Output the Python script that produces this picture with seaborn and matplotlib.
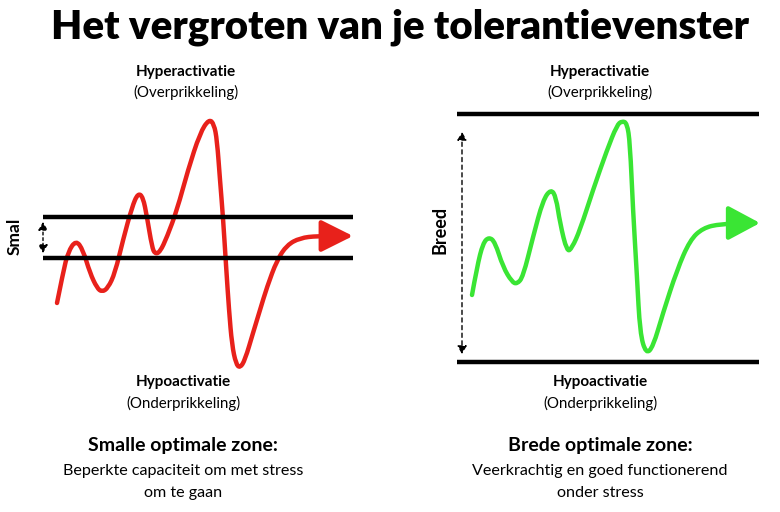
import matplotlib
matplotlib.use("Agg")
import matplotlib.pyplot as plt
from matplotlib.path import Path
from matplotlib.patches import PathPatch
import seaborn as sns

# curve points (pixel units, y grows downward)
smal_x = [57, 63, 68, 76, 83, 90, 97, 102, 108, 115, 123, 132, 138, 143, 147, 152, 155, 160, 167, 177,
          188, 200, 209, 214, 217, 220, 223, 226, 229, 232, 236, 240, 245, 253, 260, 267, 277, 287, 300,
          317, 333]
smal_y = [303, 273, 252, 240, 250, 273, 288, 292, 288, 273, 240, 207, 193, 197, 217, 247, 254, 252, 237, 210,
          170, 133, 119, 124, 140, 180, 217, 265, 310, 345, 364, 368, 360, 333, 310, 287, 260, 245, 238,
          236, 236]
smal_tip = (353, 236)

breed_x = [472, 477, 483, 489, 495, 503, 512, 517, 523, 533, 543, 551, 556, 560, 567, 572, 580, 593, 607,
           617, 622, 627, 630, 633, 637, 640, 646, 653, 663, 677, 690, 703, 720, 740]
breed_y = [295, 267, 243, 237, 242, 267, 282, 284, 277, 237, 200, 189, 197, 223, 252, 248, 230, 190, 150,
           125, 121, 123, 143, 210, 277, 333, 354, 347, 313, 270, 240, 228, 224, 223]
breed_tip = (760, 223)

# zone borders: (x start, x end, y)
smal_borders = [(43, 353, 217), (43, 353, 258)]
breed_borders = [(457, 759, 114), (457, 759, 362)]

title = "Het vergroten van je tolerantievenster"
labels_left = ["Hyperactivatie", "(Overprikkeling)", "Hypoactivatie", "(Onderprikkeling)",
               "Smalle optimale zone:", "Beperkte capaciteit om met stress", "om te gaan"]
labels_right = ["Hyperactivatie", "(Overprikkeling)", "Hypoactivatie", "(Onderprikkeling)",
                "Brede optimale zone:", "Veerkrachtig en goed functionerend", "onder stress"]

RED = "#e8211b"
GREEN = "#3ae534"


def smooth_path(xs, ys):
    # quadratic bezier chain using the read points as control points
    verts = [(xs[0], ys[0])]
    codes = [Path.MOVETO]
    n = len(xs)
    for i in range(1, n - 1):
        end = (xs[i + 1], ys[i + 1]) if i == n - 2 else ((xs[i] + xs[i + 1]) / 2, (ys[i] + ys[i + 1]) / 2)
        verts += [(xs[i], ys[i]), end]
        codes += [Path.CURVE3, Path.CURVE3]
    return Path(verts, codes)


sns.set_theme(style="white")
plt.rcParams["font.family"] = ["Lato", "DejaVu Sans"]
plt.rcParams["text.color"] = "black"

fig = plt.figure(figsize=(7.8, 5.12), dpi=100)
ax = fig.add_axes([0, 0, 1, 1])
ax.set_xlim(0, 780)
ax.set_ylim(512, 0)
ax.axis("off")

for borders in (smal_borders, breed_borders):
    for x0, x1, y in borders:
        ax.plot([x0, x1], [y, y], color="black", lw=3.2, solid_capstyle="butt")

for xs, ys, col in ((smal_x, smal_y, RED), (breed_x, breed_y, GREEN)):
    ax.add_patch(PathPatch(smooth_path(xs, ys), fill=False, edgecolor=col, lw=3.2,
                           capstyle="round", joinstyle="round"))

# arrow heads at the end of each curve
ax.annotate("", xy=smal_tip, xytext=(smal_x[-1], smal_y[-1]),
            arrowprops=dict(arrowstyle="-|>,head_length=1.4,head_width=0.7", color=RED, lw=3.2,
                            mutation_scale=14, shrinkA=0, shrinkB=0))
ax.annotate("", xy=breed_tip, xytext=(breed_x[-1], breed_y[-1]),
            arrowprops=dict(arrowstyle="-|>,head_length=1.4,head_width=0.75", color=GREEN, lw=3.2,
                            mutation_scale=14, shrinkA=0, shrinkB=0))

# dotted width arrows
ax.annotate("", xy=(43, 222), xytext=(43, 253),
            arrowprops=dict(arrowstyle="<|-|>,head_length=0.6,head_width=0.35", color="black", lw=1,
                            linestyle=(0, (2, 2)), mutation_scale=8, shrinkA=0, shrinkB=0))
ax.annotate("", xy=(462, 132), xytext=(462, 354),
            arrowprops=dict(arrowstyle="<|-|>,head_length=0.6,head_width=0.35", color="black", lw=1,
                            linestyle=(0, (3, 2.5)), mutation_scale=8, shrinkA=0, shrinkB=0))
ax.text(15, 236, "Smal", rotation=90, ha="center", va="center", fontsize=12.5, fontweight="bold")
ax.text(440, 230, "Breed", rotation=90, ha="center", va="center", fontsize=13, fontweight="bold")

ax.text(400, 27, title, ha="center", va="center", fontsize=29, fontweight="heavy")

for cx, labels in ((186, labels_left), (600, labels_right)):
    top, top_sub, bot, bot_sub, head, line1, line2 = labels
    off = -3 if cx < 300 else 0
    ax.text(cx, 72, top, ha="center", va="center", fontsize=11, fontweight="bold")
    ax.text(cx, 92, top_sub, ha="center", va="center", fontsize=10.8)
    ax.text(cx + off, 382, bot, ha="center", va="center", fontsize=11, fontweight="bold")
    ax.text(cx + off, 403, bot_sub, ha="center", va="center", fontsize=10.8)
    ax.text(cx + off, 445, head, ha="center", va="center", fontsize=14, fontweight="bold")
    ax.text(cx + off, 471, line1, ha="center", va="center", fontsize=11.6)
    ax.text(cx + off, 493, line2, ha="center", va="center", fontsize=11.6)

fig.savefig("out.png", dpi=100, facecolor="white")
